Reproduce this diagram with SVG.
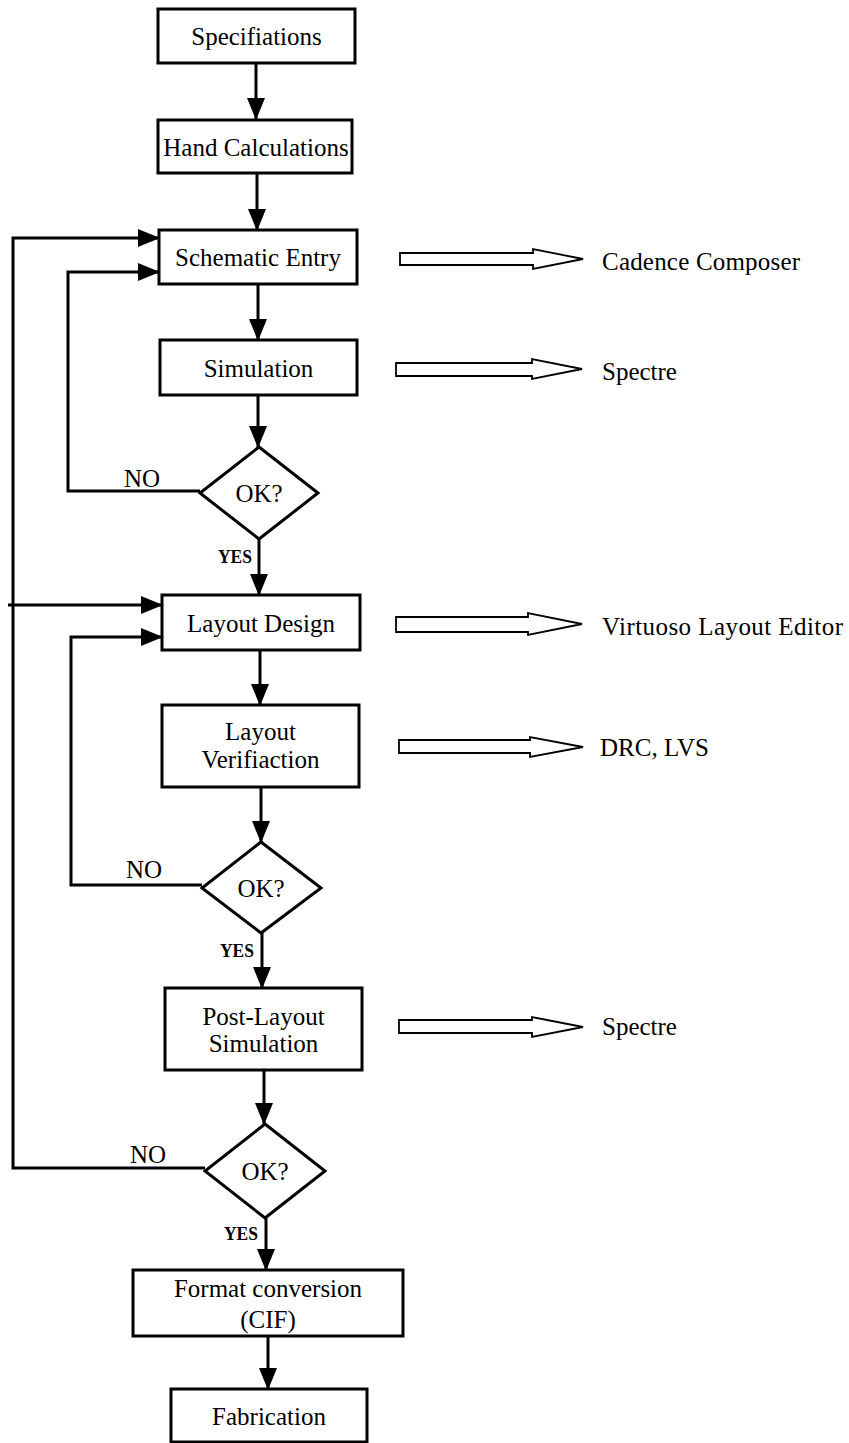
<svg xmlns="http://www.w3.org/2000/svg" width="849" height="1443" viewBox="0 0 849 1443">
<defs>
<marker id="ah" markerUnits="userSpaceOnUse" markerWidth="22" markerHeight="18" refX="21" refY="9" orient="auto">
<path d="M0,0 L22,9 L0,18 z" fill="#000"/>
</marker>
<style>
.box{fill:#fff;stroke:#000;stroke-width:3}
.dia{fill:#fff;stroke:#000;stroke-width:3}
.t{font-family:"Liberation Serif","Times New Roman",serif;font-size:25px;fill:#000;text-anchor:middle}
.tl{font-family:"Liberation Serif","Times New Roman",serif;font-size:25px;fill:#000}
.yes{font-family:"Liberation Serif","Times New Roman",serif;font-size:18px;font-weight:bold;fill:#000}
.c{fill:none;stroke:#000;stroke-width:3}
.ca{fill:none;stroke:#000;stroke-width:3;marker-end:url(#ah)}
.ha{fill:#fff;stroke:#000;stroke-width:1.8;stroke-linejoin:miter}
</style>
</defs>
<rect width="849" height="1443" fill="#fff"/>

<g id="connectors">
<line class="ca" x1="256" y1="63" x2="256" y2="119"/>
<line class="ca" x1="257" y1="173" x2="257" y2="230"/>
<line class="ca" x1="258" y1="284" x2="258" y2="340"/>
<line class="ca" x1="258" y1="395" x2="258" y2="447"/>
<line class="ca" x1="259" y1="539" x2="259" y2="595"/>
<path class="ca" d="M200,491 H68 V272 H159"/>
<line class="ca" x1="260" y1="650" x2="260" y2="705"/>
<line class="ca" x1="261" y1="787" x2="261" y2="842"/>
<line class="ca" x1="262" y1="933" x2="262" y2="988"/>
<path class="ca" d="M202,885 H71 V637 H162"/>
<line class="ca" x1="264" y1="1070" x2="264" y2="1124"/>
<line class="ca" x1="266" y1="1218" x2="266" y2="1270"/>
<path class="ca" d="M205,1168 H13 V238 H159"/>
<line class="ca" x1="8" y1="605" x2="162" y2="605"/>
<line class="ca" x1="268" y1="1336" x2="268" y2="1389"/>
<text class="tl" x="124" y="487">NO</text>
<text class="tl" x="126" y="878">NO</text>
<text class="tl" x="130" y="1163">NO</text>
<text class="yes" x="218" y="563" textLength="34" lengthAdjust="spacingAndGlyphs">YES</text>
<text class="yes" x="220" y="957" textLength="34" lengthAdjust="spacingAndGlyphs">YES</text>
<text class="yes" x="224" y="1240" textLength="34" lengthAdjust="spacingAndGlyphs">YES</text>
</g>

<g id="n-spec"><rect class="box" x="158" y="9" width="197" height="54"/><text class="t" x="256.5" y="45">Specifiations</text></g>
<g id="n-hand"><rect class="box" x="158" y="120" width="194" height="53"/><text class="t" x="256" y="156">Hand Calculations</text></g>
<g id="n-schem"><rect class="box" x="159" y="230" width="198" height="54"/><text class="t" x="258" y="266">Schematic Entry</text></g>
<g id="n-sim"><rect class="box" x="160" y="340" width="197" height="55"/><text class="t" x="258.5" y="377">Simulation</text></g>
<g id="n-ok1"><polygon class="dia" points="259,447 318,493 259,539 200,493"/><text class="t" x="259" y="502">OK?</text></g>
<g id="n-layout"><rect class="box" x="162" y="595" width="198" height="55"/><text class="t" x="261" y="632">Layout Design</text></g>
<g id="n-verif"><rect class="box" x="162" y="705" width="197" height="82"/><text class="t" x="260.5" y="740">Layout</text><text class="t" x="260.5" y="768">Verifiaction</text></g>
<g id="n-ok2"><polygon class="dia" points="261,842 321,888 261,933 202,888"/><text class="t" x="261" y="897">OK?</text></g>
<g id="n-post"><rect class="box" x="165" y="988" width="197" height="82"/><text class="t" x="263.5" y="1025">Post-Layout</text><text class="t" x="263.5" y="1052">Simulation</text></g>
<g id="n-ok3"><polygon class="dia" points="265,1124 325,1171 265,1218 205,1171"/><text class="t" x="265" y="1180">OK?</text></g>
<g id="n-format"><rect class="box" x="133" y="1270" width="270" height="66"/><text class="t" x="268" y="1297">Format conversion</text><text class="t" x="268" y="1328">(CIF)</text></g>
<g id="n-fab"><rect class="box" x="171" y="1389" width="196" height="53"/><text class="t" x="269" y="1425">Fabrication</text></g>

<g id="tool-cadence"><polygon class="ha" points="400,253 533,253 533,249 583,259 533,269 533,265 400,265"/><text class="tl" x="602" y="270" textLength="198" lengthAdjust="spacing">Cadence Composer</text></g>
<g id="tool-spectre1"><polygon class="ha" points="396,363 532,363 532,359 582,369 532,379 532,376 396,376"/><text class="tl" x="602" y="380">Spectre</text></g>
<g id="tool-virtuoso"><polygon class="ha" points="396,617 528,617 528,613 582,624 528,635 528,632 396,632"/><text class="tl" x="602" y="635" textLength="241" lengthAdjust="spacing">Virtuoso Layout Editor</text></g>
<g id="tool-drc"><polygon class="ha" points="399,740 530,740 530,737 583,747 530,757 530,753 399,753"/><text class="tl" x="600" y="756">DRC, LVS</text></g>
<g id="tool-spectre2"><polygon class="ha" points="399,1020 532,1020 532,1017 583,1027 532,1037 532,1033 399,1033"/><text class="tl" x="602" y="1035">Spectre</text></g>
</svg>
